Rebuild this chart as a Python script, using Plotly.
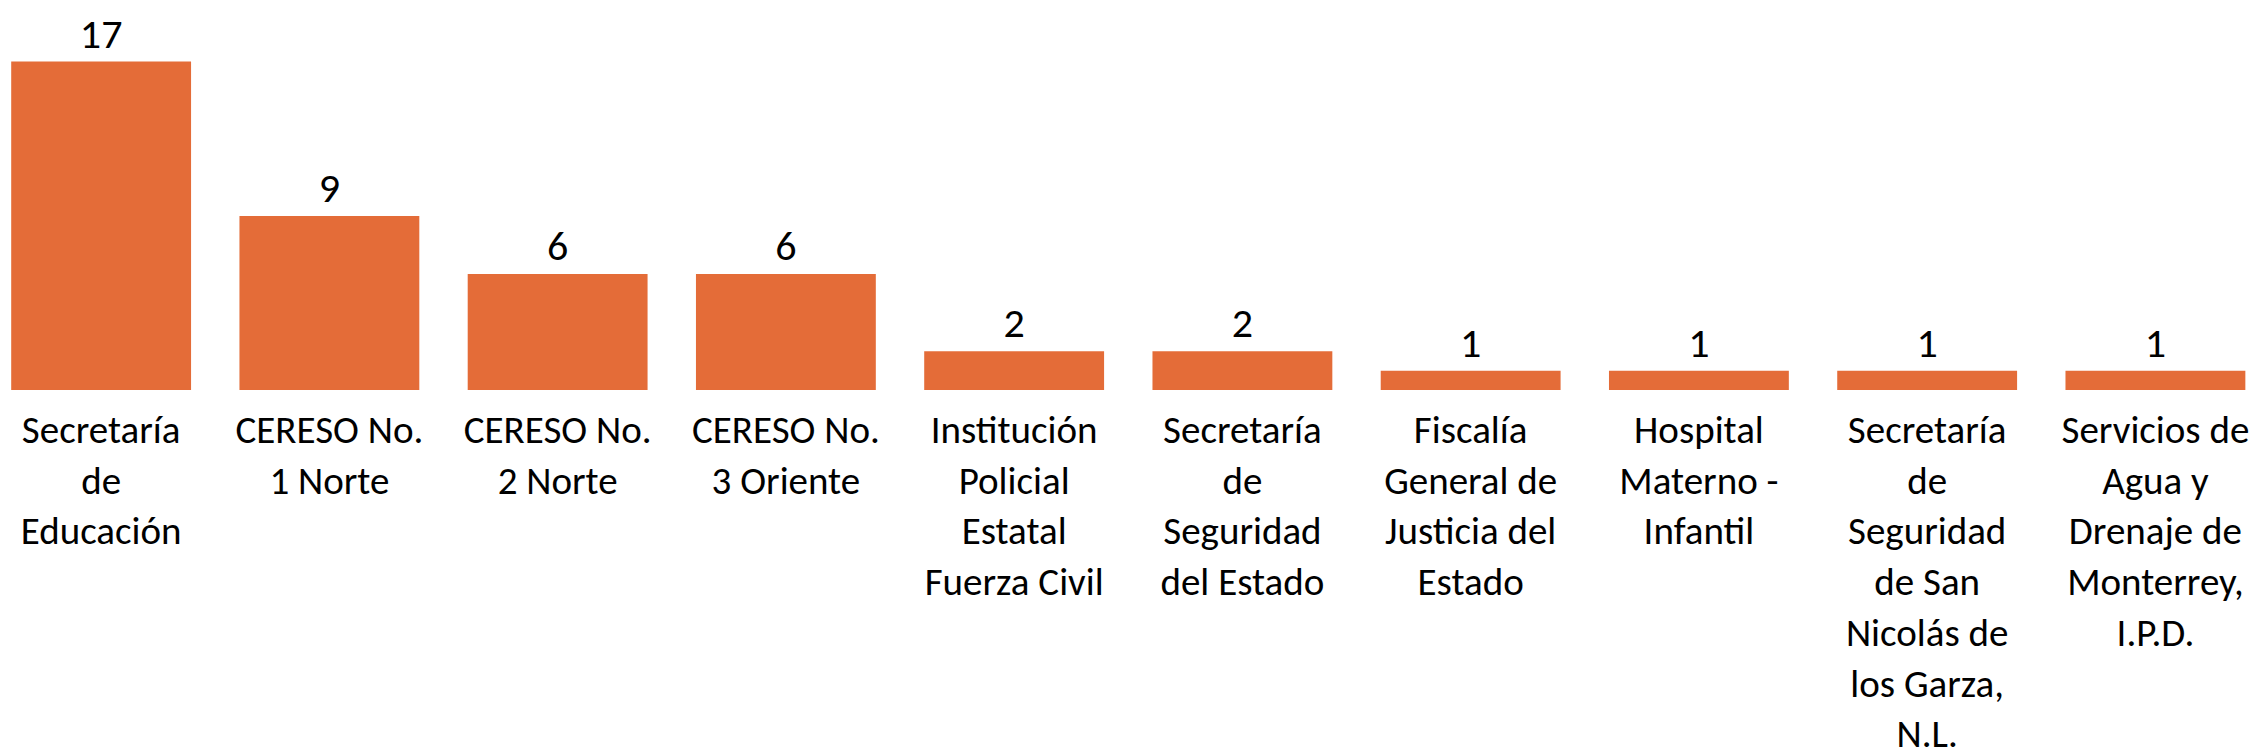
import plotly.graph_objects as go

categories = [
    "Secretaría<br>de<br>Educación",
    "CERESO No.<br>1 Norte",
    "CERESO No.<br>2 Norte",
    "CERESO No.<br>3 Oriente",
    "Institución<br>Policial<br>Estatal<br>Fuerza Civil",
    "Secretaría<br>de<br>Seguridad<br>del Estado",
    "Fiscalía<br>General de<br>Justicia del<br>Estado",
    "Hospital<br>Materno -<br>Infantil",
    "Secretaría<br>de<br>Seguridad<br>de San<br>Nicolás de<br>los Garza,<br>N.L.",
    "Servicios de<br>Agua y<br>Drenaje de<br>Monterrey,<br>I.P.D.",
]
values = [17, 9, 6, 6, 2, 2, 1, 1, 1, 1]

FONT = "Carlito, Calibri, Lato, sans-serif"

fig = go.Figure(
    go.Bar(
        x=list(range(len(categories))),
        y=values,
        marker=dict(color="#E46C38", line=dict(width=0)),
        text=[str(v) for v in values],
        textposition="outside",
        textfont=dict(family=FONT, size=42, color="#000000"),
        cliponaxis=False,
    )
)

fig.update_layout(
    width=2262,
    height=754,
    margin=dict(l=0, r=0, t=0, b=372),
    paper_bgcolor="white",
    plot_bgcolor="white",
    bargap=0.212,
    showlegend=False,
    font=dict(family=FONT, size=39, color="#000000"),
)
fig.update_xaxes(
    range=[-0.408, 9.502],
    tickvals=list(range(len(categories))),
    ticktext=categories,
    showgrid=False,
    zeroline=False,
    showline=False,
    ticks="",
    tickangle=0,
    ticklabelstandoff=13,
    tickfont=dict(family=FONT, size=39, color="#000000"),
)
fig.update_yaxes(
    range=[0, 19.77],
    visible=False,
)

fig.write_html("out.html")
